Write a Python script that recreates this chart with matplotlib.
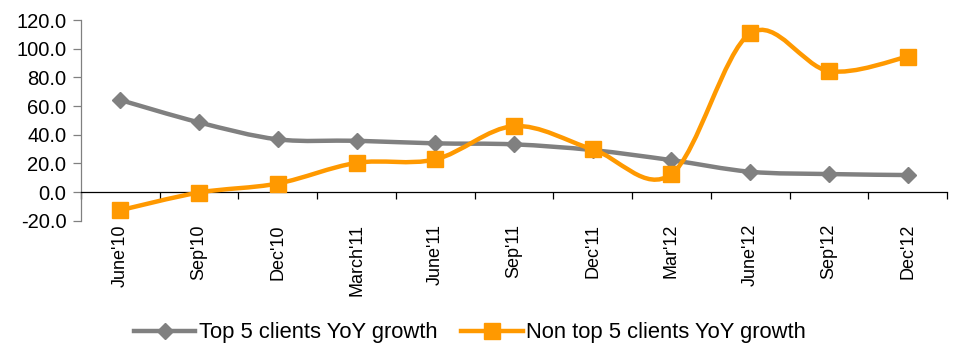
import matplotlib
matplotlib.use("Agg")
import matplotlib.pyplot as plt
from matplotlib.path import Path
from matplotlib.patches import PathPatch
from matplotlib.lines import Line2D
import numpy as np

matplotlib.rcParams["font.family"] = ["Liberation Sans", "DejaVu Sans"]

quarters = ["June'10", "Sep'10", "Dec'10", "March'11", "June'11", "Sep'11",
            "Dec'11", "Mar'12", "June'12", "Sep'12", "Dec'12"]
top5_growth = [64.2, 48.6, 36.8, 35.8, 34.0, 33.3, 29.3, 22.3, 14.2, 12.6, 11.9]
non_top5_growth = [-12.6, -0.3, 6.0, 20.4, 22.8, 46.0, 29.8, 12.6, 110.7, 84.4, 94.4]
series_names = ["Top 5 clients YoY growth", "Non top 5 clients YoY growth"]
y_ticks = [-20, 0, 20, 40, 60, 80, 100, 120]

GRAY = "#808080"
ORANGE = "#FF9900"


def smooth_path(xs, ys):
    # Catmull-Rom style bezier, like Excel's "smoothed line"
    pts = np.column_stack([xs, ys]).astype(float)
    n = len(pts)
    verts = [pts[0]]
    codes = [Path.MOVETO]
    for i in range(n - 1):
        p0 = pts[max(i - 1, 0)]
        p1 = pts[i]
        p2 = pts[i + 1]
        p3 = pts[min(i + 2, n - 1)]
        verts += [p1 + (p2 - p0) / 6, p2 - (p3 - p1) / 6, p2]
        codes += [Path.CURVE4] * 3
    return Path(verts, codes)


fig = plt.figure(figsize=(9.59, 3.45), dpi=100)
ax = fig.add_axes([0.0845, 0.36, 0.903, 0.582])

x = np.arange(len(quarters))

for values, color, marker, ms, z in [(top5_growth, GRAY, "D", 8, 3),
                                     (non_top5_growth, ORANGE, "s", 12, 4)]:
    ax.add_patch(PathPatch(smooth_path(x, values), facecolor="none",
                           edgecolor=color, lw=3.2, zorder=z, capstyle="round"))
    ax.plot(x, values, linestyle="none", marker=marker, markersize=ms,
            color=color, zorder=z + 0.5)

ax.set_xlim(-0.5, len(quarters) - 0.5)
ax.set_ylim(-20, 120)

ax.spines["top"].set_visible(False)
ax.spines["right"].set_visible(False)
ax.spines["bottom"].set_position(("data", 0))
ax.spines["bottom"].set_color("black")
ax.spines["bottom"].set_linewidth(0.9)
ax.spines["left"].set_color(GRAY)
ax.spines["left"].set_linewidth(0.9)

ax.set_xticks(np.arange(-0.5, len(quarters), 1))
ax.set_xticklabels([])
ax.set_xticks(x, minor=True)
ax.set_xticklabels(quarters, minor=True, rotation=90)
ax.tick_params(axis="x", which="major", length=5, width=0.9, direction="out")
ax.tick_params(axis="x", which="minor", length=0, pad=23, labelsize=13)

ax.set_yticks(y_ticks)
ax.set_yticklabels([f"{v:.1f}" for v in y_ticks])
ax.tick_params(axis="y", length=5.5, width=0.9, color=GRAY, pad=5, labelsize=14.5)

handles = [Line2D([], [], color=GRAY, lw=3.2, marker="D", markersize=8),
           Line2D([], [], color=ORANGE, lw=3.2, marker="s", markersize=12)]
fig.legend(handles, series_names, loc="center", bbox_to_anchor=(0.49, 0.035),
           ncol=2, frameon=False, fontsize=15.8, handlelength=2.8,
           handletextpad=0.15, columnspacing=1.1)

fig.savefig("out.png", dpi=100)
